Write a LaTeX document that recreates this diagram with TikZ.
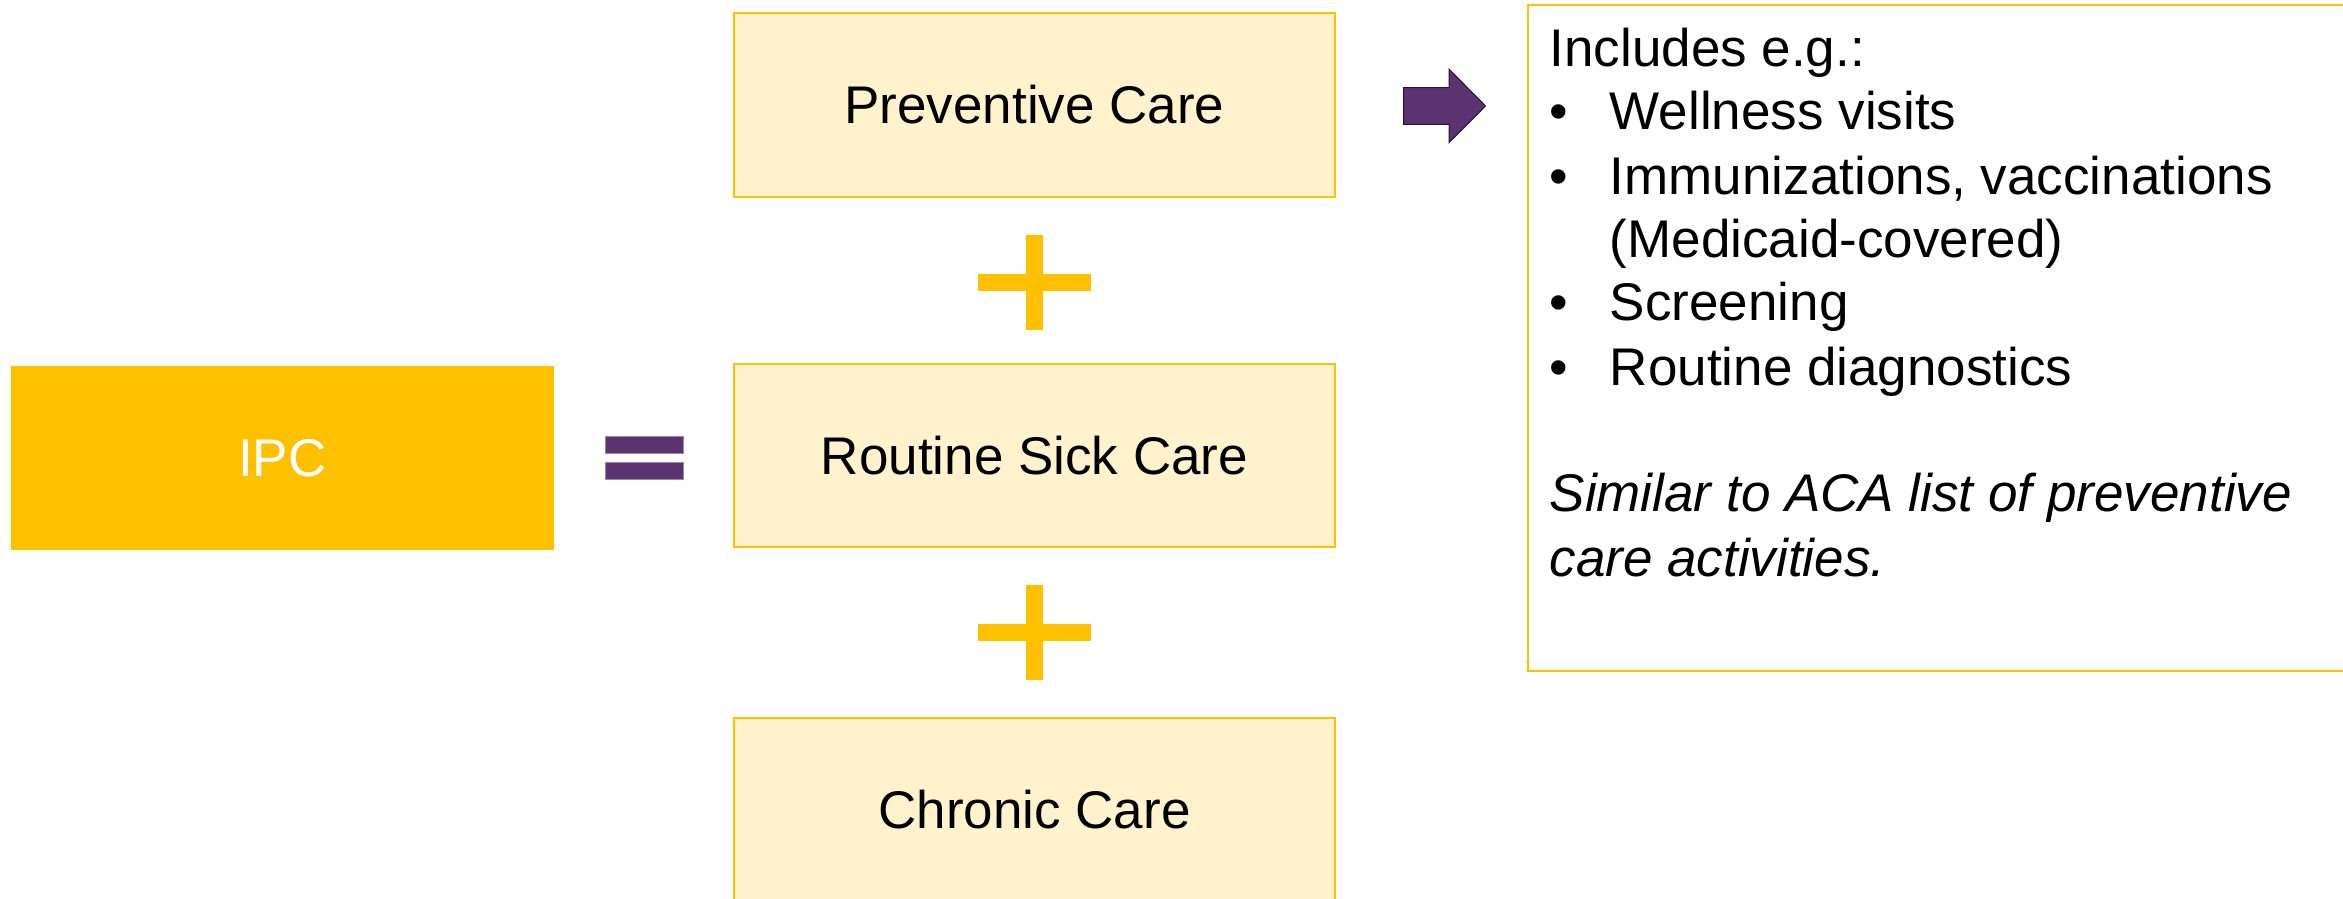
\documentclass[tikz,border=0pt]{standalone}
\usepackage{fontspec}
\setmainfont{Liberation Sans}
\definecolor{gold}{HTML}{FFC000}
\definecolor{lightgold}{HTML}{FFF2CC}
\definecolor{plum}{HTML}{5B3370}
\begin{document}
\begin{tikzpicture}[x=1pt,y=-1pt,
  every node/.style={font=\fontsize{53}{63.5}\selectfont},
  carebox/.style={draw=gold, fill=lightgold, line width=2pt, minimum width=601pt, minimum height=183.5pt, inner sep=0pt},
  ipcbox/.style={fill=gold, text=white, minimum width=542.5pt, minimum height=184pt, inner sep=0pt},
  infobox/.style={draw=gold, line width=2pt, anchor=north west, minimum width=840pt, minimum height=666pt, inner sep=0pt},
  textline/.style={anchor=base west, inner sep=0pt},
  plusmark/.pic={\fill[gold] (-8.5,-47.5) rectangle (8.5,47.5);
                 \fill[gold] (-56.5,-8.5) rectangle (56.5,8.5);},
  eqbar/.style={fill=plum, draw=plum!60!white, line width=1pt}
]
\useasboundingbox (0,0) rectangle (2343,898);

% left: IPC
\node[ipcbox] (ipc) at (282.25,458) {IPC};

% equals sign
\filldraw[eqbar] (605,436) rectangle (683,453);
\filldraw[eqbar] (605,462.5) rectangle (683,479.5);

% care boxes
\node[carebox] (prev) at (1034.5,104.75) {Preventive Care};
\node[carebox] (sick) at (1034.5,455.25) {Routine Sick Care};
\node[carebox] (chron) at (1034.5,809.75) {Chronic Care};

% plus signs
\pic at (1034.5,282.5) {plusmark};
\pic at (1034.5,632.5) {plusmark};

% block arrow
\filldraw[fill=plum, draw=black!60!plum, line width=1pt]
  (1403.5,87.7) -- (1449,87.7) -- (1449,69) -- (1485.5,106) -- (1449,142.7) -- (1449,124.3) -- (1403.5,124.3) -- cycle;

% info box
\node[infobox] (info) at (1527,4) {};
\node[textline] (inc) at (1549.5,66) {Includes e.g.:};
\node[textline] (b1) at (1549,129.5) {•};
\node[textline] (t1) at (1609.7,129.5) {Wellness visits};
\node[textline] (b2) at (1549,194) {•};
\node[textline] (t2) at (1609.7,194) {Immunizations, vaccinations};
\node[textline] (t2b) at (1609.7,257) {(Medicaid-covered)};
\node[textline] (b3) at (1549,320.5) {•};
\node[textline] (t3) at (1609.7,320.5) {Screening};
\node[textline] (b4) at (1549,385) {•};
\node[textline] (t4) at (1609.7,385) {Routine diagnostics};
\node[textline] (s1) at (1549.5,511) {\itshape Similar to ACA list of preventive};
\node[textline] (s2) at (1549.5,576) {\itshape care activities.};
\end{tikzpicture}
\end{document}
